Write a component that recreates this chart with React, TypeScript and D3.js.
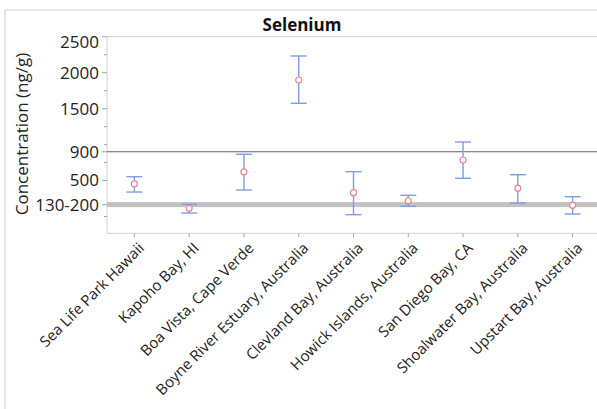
import * as d3 from "d3";

const categories = [
  "Sea Life Park Hawaii",
  "Kapoho Bay, HI",
  "Boa Vista, Cape Verde",
  "Boyne River Estuary, Australia",
  "Clevland Bay, Australia",
  "Howick Islands, Australia",
  "San Diego Bay, CA",
  "Shoalwater Bay, Australia",
  "Upstart Bay, Australia",
];
const means = [452, 114, 619, 1898, 331, 219, 785, 392, 155];
const lowers = [340, 48, 368, 1574, 25, 142, 531, 187, 34];
const uppers = [553, 169, 865, 2232, 623, 294, 1036, 581, 275];

const majorTicks = [2500, 2000, 1500, 900, 500];
const minorTicks = [2250, 1750, 1250, 1000, 750, 0];
const bandLow = 130;
const bandHigh = 200;
const bandLabel = "130-200";
const refLine = 900;

const W = 597;
const H = 409;
const plot = { left: 107, right: 600, top: 36.7, bottom: 233.3 };
const font = "'Open Sans', 'Noto Sans', sans-serif";

export default function App() {
  const x = d3.scaleBand().domain(categories).range([plot.left, plot.right]);
  const y = d3.scaleLinear().domain([-234, 2500]).range([plot.bottom, plot.top]);
  const cx = (c: string) => (x(c) ?? 0) + x.bandwidth() / 2;
  const capW = 8;
  const blue = "#7d9de6";

  return (
    <svg
      width={W}
      height={H}
      style={{ position: "fixed", left: 0, top: 0, background: "#fff" }}
      fontFamily={font}
    >
      {/* outer frame */}
      <line x1={5} y1={10} x2={W} y2={10} stroke="#d0d0d0" />
      <line x1={5} y1={10} x2={5} y2={H} stroke="#d0d0d0" />
      <text x={302} y={31} textAnchor="middle" fontSize={17} fontWeight="bold" fill="#111">
        Selenium
      </text>

      {/* plot frame */}
      <rect
        x={plot.left}
        y={plot.top}
        width={plot.right - plot.left}
        height={plot.bottom - plot.top}
        fill="none"
        stroke="#d3d3d3"
      />

      {/* reference band and line */}
      <rect
        x={plot.left}
        y={y(bandHigh)}
        width={plot.right - plot.left}
        height={y(bandLow) - y(bandHigh)}
        fill="#c2c2c2"
      />
      <line x1={plot.left} x2={plot.right} y1={y(refLine)} y2={y(refLine)} stroke="#606060" />

      {/* y ticks */}
      {majorTicks.map((t) => (
        <g key={t}>
          <line x1={plot.left - 5} x2={plot.left} y1={y(t)} y2={y(t)} stroke="#a8a8a8" />
          <text
            x={plot.left - 8}
            y={t === 2500 ? y(t) + 5 : y(t)}
            dy="0.35em"
            textAnchor="end"
            fontSize={17}
            fill="#222"
          >
            {t}
          </text>
        </g>
      ))}
      {minorTicks.map((t) => (
        <line key={t} x1={plot.left - 3} x2={plot.left} y1={y(t)} y2={y(t)} stroke="#a8a8a8" />
      ))}
      <line
        x1={plot.left - 5}
        x2={plot.left}
        y1={y((bandLow + bandHigh) / 2)}
        y2={y((bandLow + bandHigh) / 2)}
        stroke="#a8a8a8"
      />
      <text
        x={plot.left - 8}
        y={y((bandLow + bandHigh) / 2)}
        dy="0.35em"
        textAnchor="end"
        fontSize={17}
        fill="#222"
      >
        {bandLabel}
      </text>
      <text
        transform={`translate(22,${(plot.top + plot.bottom) / 2 - 1}) rotate(-90)`}
        textAnchor="middle"
        dy="0.35em"
        fontSize={17}
        fill="#222"
      >
        Concentration (ng/g)
      </text>

      {/* x ticks and labels */}
      {categories.map((c) => (
        <g key={c}>
          <line x1={cx(c)} x2={cx(c)} y1={plot.bottom} y2={plot.bottom + 4} stroke="#a8a8a8" />
          <text
            transform={`translate(${cx(c) + 7},${plot.bottom + 12}) rotate(-45)`}
            textAnchor="end"
            dy="0.35em"
            fontSize={15}
            fill="#222"
          >
            {c}
          </text>
        </g>
      ))}

      {/* error bars */}
      {categories.map((c, i) => (
        <g key={c}>
          <line x1={cx(c)} x2={cx(c)} y1={y(lowers[i])} y2={y(uppers[i])} stroke={blue} strokeWidth={1.4} />
          <line x1={cx(c) - capW} x2={cx(c) + capW} y1={y(uppers[i])} y2={y(uppers[i])} stroke={blue} strokeWidth={1.4} />
          <line x1={cx(c) - capW} x2={cx(c) + capW} y1={y(lowers[i])} y2={y(lowers[i])} stroke={blue} strokeWidth={1.4} />
          <circle cx={cx(c)} cy={y(means[i])} r={3} fill="#fff" stroke="#e8848f" strokeWidth={1.2} />
        </g>
      ))}
    </svg>
  );
}
